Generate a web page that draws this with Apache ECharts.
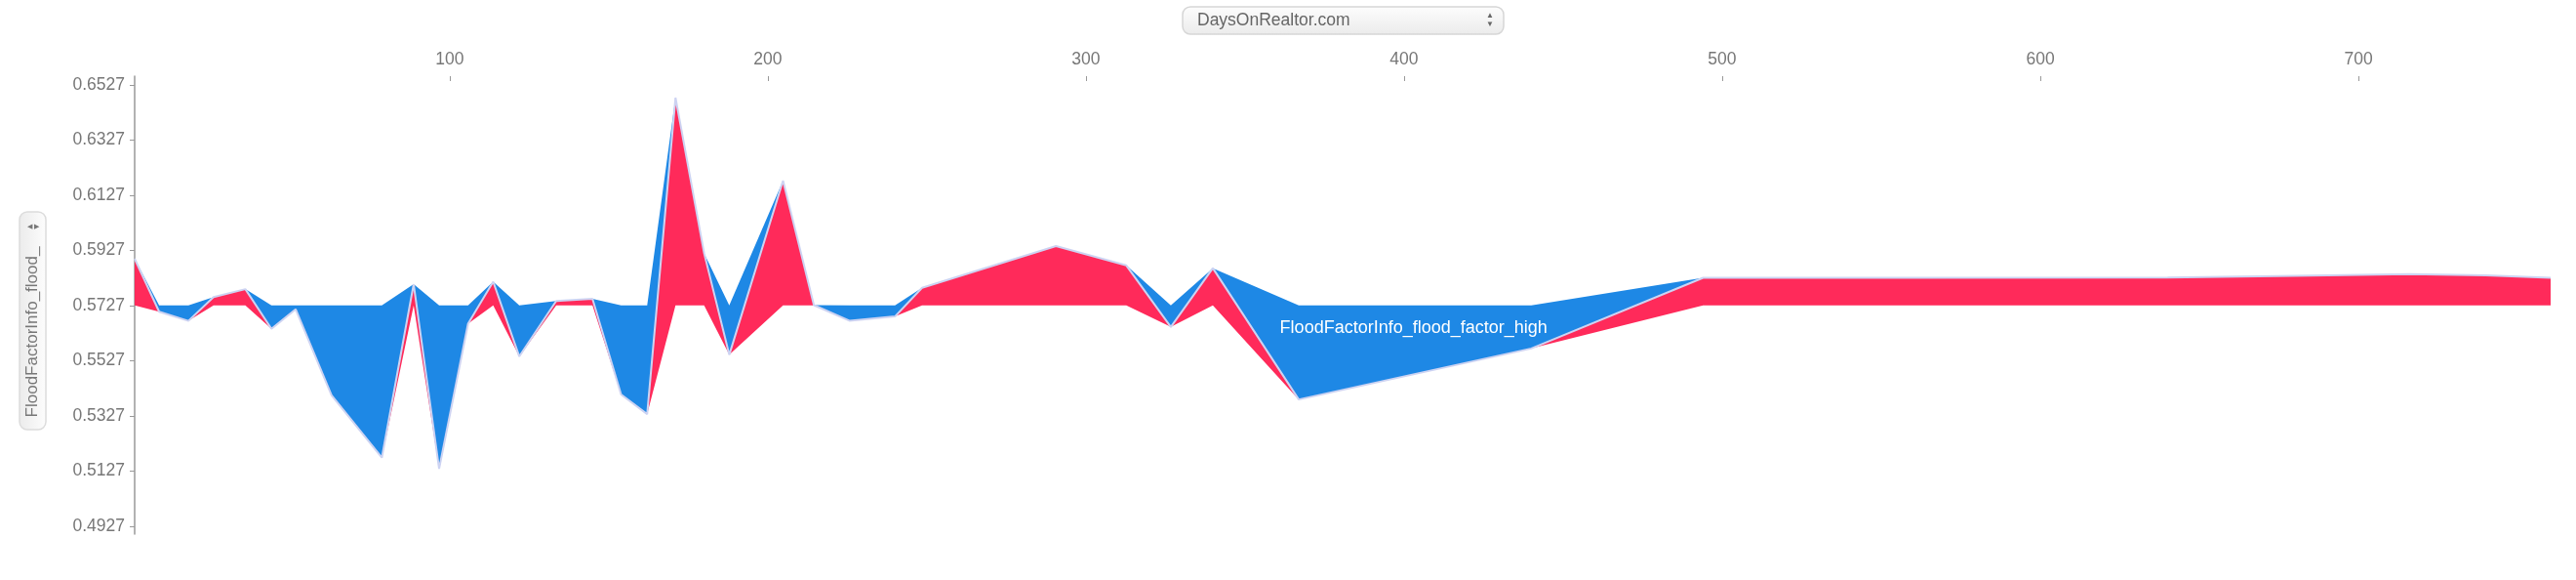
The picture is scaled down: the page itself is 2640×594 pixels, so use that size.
<!DOCTYPE html>
<html>
<head>
<meta charset="utf-8">
<script src="https://cdn.jsdelivr.net/npm/echarts@6/dist/echarts.min.js"></script>
<style>
html,body{margin:0;padding:0;background:#fff;}
#chart{width:2640px;height:594px;}
</style>
</head>
<body>
<div id="chart"></div>
<script>
// ---- data ----
const days = [1, 8.7, 17.9, 25.8, 35.8, 44.0, 51.6, 62.9, 78.7, 88.7, 96.7, 105.8, 113.7, 121.9, 133.5, 144.9, 153.9, 162.1, 171.0, 180.0, 187.9, 204.8, 214.5, 225.8, 240.0, 248.5, 290.6, 312.7, 326.7, 339.9, 366.9, 440.0, 494.0, 560.0, 640.0, 680.0, 716.0, 740.0, 760.4];
const outputValues = [0.5896, 0.5704, 0.5671, 0.5757, 0.5786, 0.5642, 0.5713, 0.5401, 0.5175, 0.5804, 0.5135, 0.5661, 0.5813, 0.5542, 0.5743, 0.5751, 0.5404, 0.5333, 0.6480, 0.5916, 0.5548, 0.6179, 0.5728, 0.5671, 0.5687, 0.5791, 0.5942, 0.5872, 0.5649, 0.5862, 0.5386, 0.5571, 0.5827, 0.5827, 0.5828, 0.5834, 0.5840, 0.5836, 0.5827];
const baseValue = 0.5727;
const yTickValues = [0.4927, 0.5127, 0.5327, 0.5527, 0.5727, 0.5927, 0.6127, 0.6327, 0.6527];
const xTickValues = [100, 200, 300, 400, 500, 600, 700];
const featureLabel = 'FloodFactorInfo_flood_factor_high';
const featureLabelAnchor = [403, 0.5646];
const xAxisTitle = 'DaysOnRealtor.com';
const yAxisTitle = 'FloodFactorInfo_flood_';

// ---- derived bands ----
const redLo = outputValues.map(v => Math.min(v, baseValue));
const redHi = outputValues.slice();
const blueLo = outputValues.slice();
const blueHi = outputValues.map(v => Math.max(v, baseValue));

const RED = '#ff2a5a';
const BLUE = '#1e88e5';
const FONT = '"Liberation Sans", Arial, Helvetica, sans-serif';

function bandRenderer(lo, hi, color, label) {
  return function (params, api) {
    if (params.dataIndex !== 0) return null;
    const pts = [];
    for (let i = 0; i < days.length; i++) pts.push(api.coord([days[i], hi[i]]));
    for (let i = days.length - 1; i >= 0; i--) pts.push(api.coord([days[i], lo[i]]));
    const children = [{ type: 'polygon', shape: { points: pts }, style: { fill: color } }];
    if (label) {
      const p = api.coord(label.anchor);
      children.push({
        type: 'text', x: p[0], y: p[1], z2: 10,
        style: { text: label.text, fill: '#fff', fontSize: 18, fontFamily: FONT, align: 'center', verticalAlign: 'middle' }
      });
    }
    return { type: 'group', children: children };
  };
}

const chart = echarts.init(document.getElementById('chart'), null, { renderer: 'canvas' });

chart.setOption({
  animation: false,
  backgroundColor: '#fff',
  textStyle: { fontFamily: FONT },
  grid: { left: 138, right: 26, top: 78, bottom: 47 },
  xAxis: {
    type: 'value', position: 'top', min: 1, max: 760.4,
    axisLine: { show: false },
    axisTick: { show: true, inside: true, length: 5, customValues: xTickValues, lineStyle: { color: '#999', width: 1 } },
    axisLabel: { customValues: xTickValues, color: '#777', fontSize: 17.5, margin: 8, fontFamily: FONT },
    splitLine: { show: false }
  },
  yAxis: {
    type: 'value', min: 0.4898, max: 0.6558,
    axisLine: { show: true, lineStyle: { color: '#999', width: 1.5 } },
    axisTick: { show: true, length: 5, customValues: yTickValues, lineStyle: { color: '#999', width: 1 } },
    axisLabel: { customValues: yTickValues, formatter: v => Number(v).toFixed(4), color: '#777', fontSize: 17.5, margin: 10, fontFamily: FONT },
    splitLine: { show: false }
  },
  graphic: [
    { type: 'rect', x: 1212, y: 7, silent: true, shape: { width: 329, height: 28, r: 8 },
      style: { fill: new echarts.graphic.LinearGradient(0, 0, 0, 1, [{ offset: 0, color: '#fdfdfd' }, { offset: 1, color: '#ebebeb' }]), stroke: '#d6d6d6', lineWidth: 1.5 } },
    { type: 'text', x: 1227, y: 21, silent: true, style: { text: xAxisTitle, fill: '#666', fontSize: 17.5, fontFamily: FONT, verticalAlign: 'middle' } },
    { type: 'text', x: 1527, y: 16, silent: true, style: { text: '▲', fill: '#666', fontSize: 8, align: 'center', verticalAlign: 'middle' } },
    { type: 'text', x: 1527, y: 25, silent: true, style: { text: '▼', fill: '#666', fontSize: 8, align: 'center', verticalAlign: 'middle' } },
    { type: 'rect', x: 20, y: 217, silent: true, shape: { width: 27, height: 223, r: 8 },
      style: { fill: new echarts.graphic.LinearGradient(0, 0, 1, 0, [{ offset: 0, color: '#ebebeb' }, { offset: 1, color: '#fdfdfd' }]), stroke: '#dcdcdc', lineWidth: 1.5 } },
    { type: 'text', x: 33.5, y: 340, rotation: Math.PI / 2, silent: true,
      style: { text: yAxisTitle, fill: '#777', fontSize: 17, fontFamily: FONT, align: 'center', verticalAlign: 'middle' } },
    { type: 'text', x: 30, y: 232, silent: true, style: { text: '◀', fill: '#777', fontSize: 7, align: 'center', verticalAlign: 'middle' } },
    { type: 'text', x: 37, y: 232, silent: true, style: { text: '▶', fill: '#777', fontSize: 7, align: 'center', verticalAlign: 'middle' } }
  ],
  series: [
    {
      type: 'custom', name: 'positive', silent: true, z: 2,
      data: days.map((d, i) => [d, redLo[i], redHi[i]]),
      encode: { x: 0, y: [1, 2] },
      renderItem: bandRenderer(redLo, redHi, RED, null)
    },
    {
      type: 'custom', name: 'negative', silent: true, z: 3,
      data: days.map((d, i) => [d, blueLo[i], blueHi[i]]),
      encode: { x: 0, y: [1, 2] },
      renderItem: bandRenderer(blueLo, blueHi, BLUE, { text: featureLabel, anchor: featureLabelAnchor })
    },
    {
      type: 'line', name: 'output', silent: true, z: 4,
      data: days.map((d, i) => [d, outputValues[i]]),
      showSymbol: false, symbol: 'none',
      lineStyle: { color: '#cdd3f2', width: 2 }
    }
  ]
});
</script>
</body>
</html>
